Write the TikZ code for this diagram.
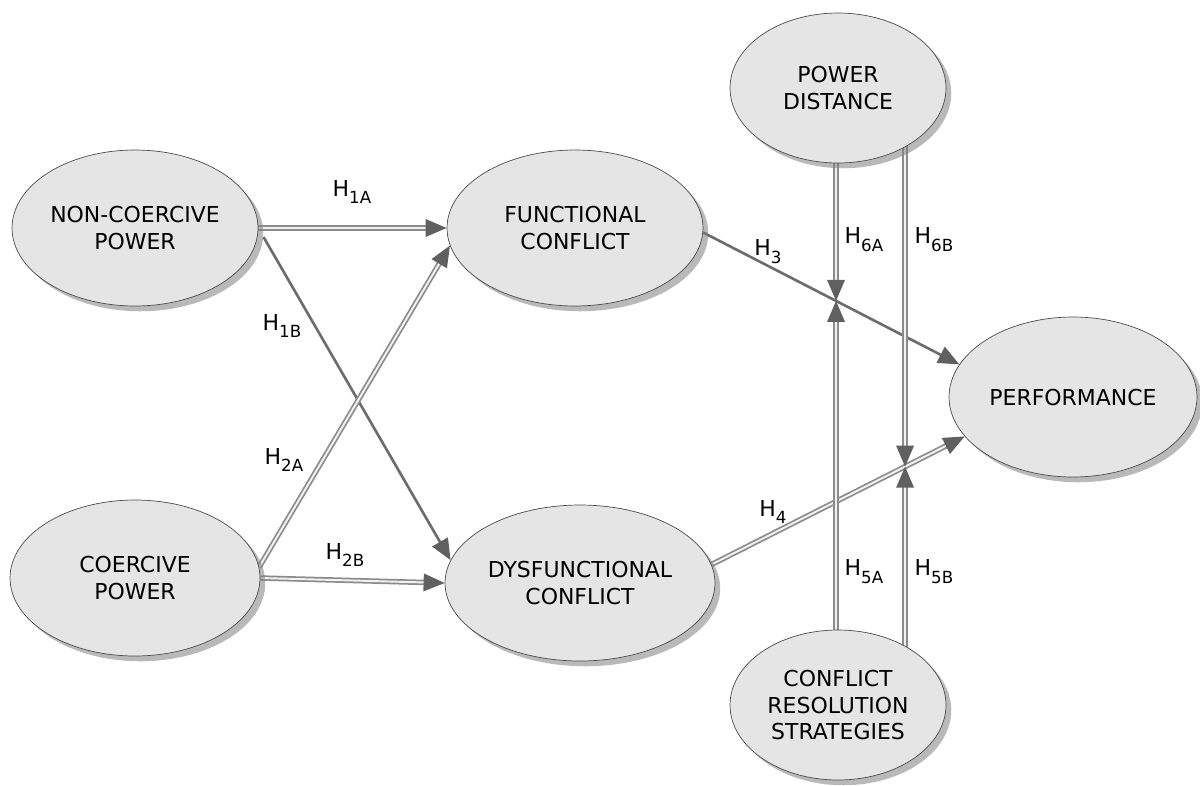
\documentclass[tikz,border=0pt]{standalone}
\usepackage{fontspec}
\setmainfont{DejaVu Sans}
\usetikzlibrary{shapes,shadows,arrows.meta,backgrounds}

\newcommand{\hy}[1]{H\raisebox{-4.5pt}{\fontsize{9.5}{11}\selectfont #1}}

\begin{document}
\begin{tikzpicture}[x=0.02cm, y=-0.02cm]
    \tikzstyle{var}=[ellipse, draw=gray!60!black, fill=gray!20, inner sep=0pt, align=center, font=\fontsize{12.5}{15}\selectfont, drop shadow={shadow xshift=3pt, shadow yshift=-3pt, opacity=.55}]
    \tikzstyle{dbl}=[draw=gray!90, line width=1pt, double=white!90!gray, double distance=1.1pt, -{Triangle[length=12pt,width=10pt,color=gray!75!black]}]
    \tikzstyle{sgl}=[draw=gray!85!black, line width=1.5pt, -{Triangle[length=12pt,width=10pt,color=gray!75!black]}]
    \tikzstyle{hlab}=[font=\fontsize{12.5}{14}\selectfont, inner sep=1pt]
    \useasboundingbox (0,0) rectangle (1200,785);

    % constructs
    \node[var, minimum width=4.92cm, minimum height=3.12cm] (ncp) at (135,228) {NON-COERCIVE\\POWER};
    \node[var, minimum width=5cm, minimum height=3.12cm] (cp) at (135,578) {COERCIVE\\POWER};
    \node[var, minimum width=5.12cm, minimum height=3.12cm] (fc) at (575,228) {FUNCTIONAL\\CONFLICT};
    \node[var, minimum width=5.4cm, minimum height=3.12cm] (dc) at (580,583) {DYSFUNCTIONAL\\CONFLICT};
    \node[var, minimum width=4.32cm, minimum height=3cm] (pd) at (838,88) {POWER\\DISTANCE};
    \node[var, minimum width=4.96cm, minimum height=3.2cm] (pf) at (1073,397) {PERFORMANCE};
    \node[var, minimum width=4.32cm, minimum height=3cm] (crs) at (838,705) {CONFLICT\\RESOLUTION\\STRATEGIES};

    % where the moderators meet the paths
    \coordinate (m3a) at (intersection of fc.358--pf.164 and 836,0--836,100);
    \coordinate (m4b) at (intersection of dc.8--pf.200 and 905,0--905,100);

    \begin{pgfonlayer}{background}
    \draw[dbl] (ncp.east) -- (fc.west);
    \draw[sgl, shorten <=6pt] (ncp.east) -- (dc.170);
    \draw[dbl] (cp.5) -- (fc.188);
    \draw[dbl] (cp.east) -- (dc.west);
    \draw[sgl] (fc.358) -- (pf.164);
    \draw[dbl] (dc.8) -- (pf.200);
    \draw[dbl] (pd.center -| m3a) -- (m3a);
    \draw[dbl] (pd.center -| m4b) -- (m4b);
    \draw[dbl] (crs.center -| m3a) -- (m3a);
    \draw[dbl] (crs.center -| m4b) -- (m4b);
    \end{pgfonlayer}

    % hypotheses
    \node[hlab] (h1a) at (352,192) {\hy{1A}};
    \node[hlab] (h1b) at (282,326) {\hy{1B}};
    \node[hlab] (h2a) at (284,460) {\hy{2A}};
    \node[hlab] (h2b) at (345,555) {\hy{2B}};
    \node[hlab] (h3) at (768,252) {\hy{3}};
    \node[hlab] (h4) at (773,512) {\hy{4}};
    \node[hlab] (h6a) at (864,240) {\hy{6A}};
    \node[hlab] (h6b) at (934,240) {\hy{6B}};
    \node[hlab] (h5a) at (864,572) {\hy{5A}};
    \node[hlab] (h5b) at (934,572) {\hy{5B}};
\end{tikzpicture}
\end{document}
